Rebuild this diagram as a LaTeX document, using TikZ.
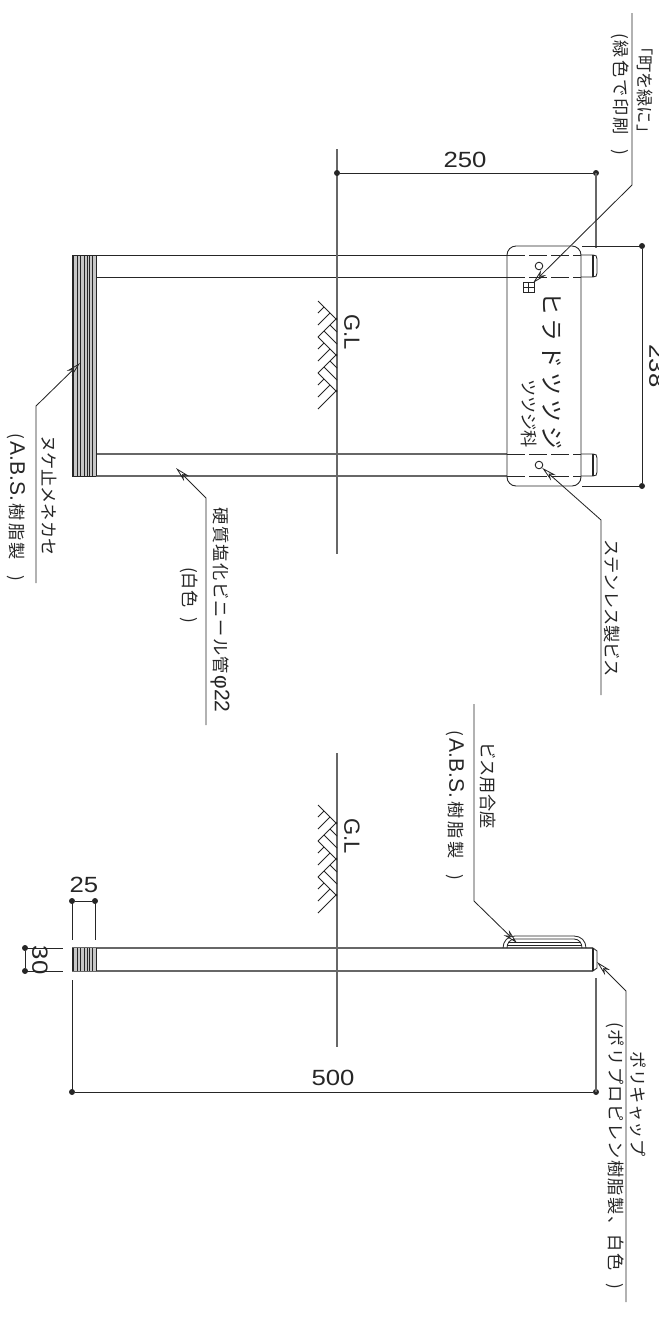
\documentclass[tikz,border=0pt]{standalone}
\usepackage{fontspec}
\usetikzlibrary{arrows.meta}
\setmainfont{Noto Sans CJK JP}
\newfontfamily\lat{Liberation Sans}
\definecolor{ink}{gray}{0.15}
\tikzset{
  x=0.5pt,y=-0.5pt,
  ln/.style={draw=ink,line width=0.42pt},
  gr/.style={draw=ink!70,line width=0.55pt},
  leader/.style={ln,-{Stealth[open,length=7.5pt,width=3.6pt]}},
  txt/.style={rotate=-90,inner sep=0pt,text=ink,font=\fontsize{8.6pt}{9pt}\selectfont},
  dig/.style={inner sep=0pt,text=ink,font=\lat\fontsize{11pt}{12pt}\selectfont},
  dimdot/.style={circle,fill=ink,inner sep=0pt,minimum size=3pt},
  hatchline/.style={ln,line width=0.4pt}
}
\makeatletter
\newcommand{\fit}[2]{\makebox[\dimexpr #1pt/2\relax][s]{\let\fit@sep\relax\@tfor\fit@t:=#2\do{\fit@sep\fit@t\let\fit@sep\hfil}}}
\makeatother
\newcommand{\wdig}[1]{\scalebox{1.17}[1]{#1}}
\newcommand{\gp}{\hspace{5pt}}
\newcommand{\ABS}{\mbox{\lat\fontsize{10.5pt}{11pt}\selectfont A.B.S.}}
\newcommand{\phitw}{\mbox{\lat\fontsize{10.5pt}{11pt}\selectfont φ22}}
\newcommand{\gline}[1]{%
  \foreach \gy in {#1}{
    \draw[hatchline] (318,\gy) -- (337,\gy+19);
    \draw[hatchline] (318,\gy+12) -- (324,\gy+6);
    \draw[hatchline] (318,\gy+24) -- (330,\gy+12);
    \draw[hatchline] (318,\gy+36) -- (337,\gy+17);
  }
  \foreach \gy in {#1}{
    \ifnum\gy=\gend\else
    \draw[hatchline] (324,\gy+30) -- (337,\gy+43);
    \draw[hatchline] (330,\gy+24) -- (337,\gy+31);
    \fi
  }}
\begin{document}
\begin{tikzpicture}
\useasboundingbox (0,0) rectangle (659,1324);
\clip (0,0) rectangle (659,1324);

% ---------- top view: posts ----------
\draw[ln,line width=0.5pt] (72,255) -- (507,255);
\draw[ln,line width=0.5pt] (96,277) -- (507,277);
\draw[gr] (96,454) -- (507,454);
\draw[gr] (72,476) -- (507,476);
\foreach \ya/\yb in {255/277,454/476}{
  \draw[ln,dash pattern=on 9pt off 2pt] (507,\ya) -- (581,\ya);
  \draw[ln,dash pattern=on 9pt off 2pt] (507,\yb) -- (581,\yb);
  \draw[ln] (581,\ya) -- (593,\ya) .. controls (596,\ya) and (597,\ya+1) .. (597,\ya+4) -- (597,\yb-4) .. controls (597,\yb-1) and (596,\yb) .. (593,\yb) -- (581,\yb);
  \draw[ln,line width=0.6pt] (593,\ya) -- (593,\yb);
}
% end stopper
\fill[black!22] (72,255) rectangle (96,476);
\foreach \bx in {72,73.5,77,80,84,87,89,92,96}{
  \draw[ln,line width=0.35pt] (\bx,255) -- (\bx,476);
}
\draw[ln] (72,255) -- (96,255) (72,476) -- (96,476);

% plate
\node[name=plate,draw=ink,line width=0.45pt,rounded corners=4.5pt,minimum width=37pt,minimum height=120pt,inner sep=0pt] at (544,366) {};
\node[name=holeA,draw=ink,circle,line width=0.45pt,minimum size=3.8pt,inner sep=0pt] at (539,266) {};
\node[name=holeB,draw=ink,circle,line width=0.45pt,minimum size=3.8pt,inner sep=0pt] at (539,465) {};
% printed mark
\draw[ln] (523,282) rectangle (534,292.5);
\draw[ln] (523,287) -- (534,287) (528.5,282) -- (528.5,292.5);
% plate text
\node[name=tA,txt,font=\fontsize{11.5pt}{12pt}\selectfont] at (552,370.5) {\fit{157}{ヒラドツツジ}};
\node[name=tB,txt] at (529,413) {\fit{68}{ツツジ科}};

% ground
\draw[gr] (337,149) -- (337,554);
\def\gend{373}
\gline{301,337,373}
\node[name=glA,dig,rotate=-90] at (352,332) {G.L};

% dim 250
\node[name=dA,dimdot] at (337,173) {};
\node[name=dB,dimdot] at (596,173) {};
\draw[ln] (dA) -- (dB);
\draw[gr] (596,173) -- (596,248);
\node[name=n250,dig] at (465,160) {\wdig{250}};

% dim 238
\node[name=dC,dimdot] at (642,246) {};
\node[name=dD,dimdot] at (642,486) {};
\draw[ln] (dC) -- (dD);
\draw[ln] (582,246) -- (642,246) (582,486) -- (642,486);
\node[name=n238,dig,rotate=-90] at (657,366) {\wdig{238}};

% leader: print
\coordinate (l1a) at (632,13);
\coordinate (l1b) at (632,185);
\coordinate (l1c) at (533,283);
\draw[leader] (l1a) -- (l1b) -- (l1c);
\node[name=t1,txt] at (645,83) {\fit{90}{「町を緑に」}};
\node[name=t2,txt] at (620,94) {\fit{122}{(緑色で印刷\gp)}};

% leader: screw
\coordinate (l2a) at (601,695);
\coordinate (l2b) at (601,520);
\draw[leader] (l2a) -- (l2b) -- (holeB);
\node[name=t3,txt] at (612,608) {\fit{137}{ステンレス製ビス}};

% leader: stopper
\coordinate (l3a) at (36,583);
\coordinate (l3b) at (36,406);
\coordinate (l3c) at (80,363);
\draw[leader] (l3a) -- (l3b) -- (l3c);
\node[name=t4,txt] at (49,495) {\fit{120}{ヌケ止メネカセ}};
\node[name=t5,txt] at (16,507) {\fit{148}{(\ABS 樹脂製\gp)}};

% leader: pipe
\coordinate (l4a) at (206,725);
\coordinate (l4b) at (206,498);
\coordinate (l4c) at (176,468);
\draw[leader] (l4a) -- (l4b) -- (l4c);
\node[name=t6,txt] at (220,610) {\fit{205}{硬質塩化ビニール管\phitw}};
\node[name=t7,txt] at (189,595) {\fit{56}{(白色\gp)}};

% ---------- side view ----------
\draw[gr] (337,753) -- (337,1047);
\def\gend{877}
\gline{805,841,877}
\node[name=glB,dig,rotate=-90] at (352,836) {G.L};

\draw[gr] (72,948) -- (593,948);
\draw[gr] (72,971) -- (593,971);
\fill[black!22] (72,948) rectangle (96,971);
\foreach \bx in {72,73.5,77,80,84,87,89,92,96}{
  \draw[ln,line width=0.35pt] (\bx,948) -- (\bx,971);
}
\draw[ln,line width=0.6pt] (593,948) -- (593,971);
\draw[ln] (593,948) -- (597,951) -- (597,968) -- (593,971);

% seat
\draw[ln] (503,948) .. controls (503,941) and (508,936) .. (515,936) -- (574,936) .. controls (581,936) and (586,941) .. (586,948);
\draw[ln] (507,948) .. controls (507,943) and (510,939) .. (515,939) -- (574,939) .. controls (579,939) and (582,943) .. (582,948);
\draw[ln] (508,942) -- (581,942) (507,945) -- (582,945);

% dim 25
\node[name=dE,dimdot] at (72,901) {};
\node[name=dF,dimdot] at (95,901) {};
\draw[ln] (dE) -- (dF);
\draw[ln] (72,901) -- (72,940) (95,901) -- (95,940);
\node[name=n25,dig] at (84,885) {\wdig{25}};

% dim 30
\node[name=dG,dimdot] at (25,948) {};
\node[name=dH,dimdot] at (25,971) {};
\draw[ln] (dG) -- (dH);
\draw[ln] (25,948) -- (63,948) (25,971) -- (63,971);
\node[name=n30,dig,rotate=-90] at (40,960) {\wdig{30}};

% dim 500
\node[name=dI,dimdot] at (72,1092) {};
\node[name=dJ,dimdot] at (596,1092) {};
\draw[ln] (dI) -- (dJ);
\draw[ln] (72,980) -- (72,1092);
\draw[gr] (596,978) -- (596,1092);
\node[name=n500,dig] at (333,1078) {\wdig{500}};

% leader: seat
\coordinate (l5a) at (474,704);
\coordinate (l5b) at (474,901);
\coordinate (l5c) at (517,943);
\draw[leader] (l5a) -- (l5b) -- (l5c);
\node[name=t8,txt] at (488,785) {\fit{85}{ビス用合座}};
\node[name=t9,txt] at (455,805) {\fit{150}{(\ABS 樹脂製\gp)}};

% leader: cap
\coordinate (l6a) at (626,1302);
\coordinate (l6b) at (626,991);
\coordinate (l6c) at (597,962);
\draw[leader] (l6a) -- (l6b) -- (l6c);
\node[name=t10,txt] at (638,1104) {\fit{105}{ポリキャップ}};
\node[name=t11,txt] at (615,1156) {\fit{267}{(ポリプロピレン樹脂製、白色\gp)}};
\end{tikzpicture}
\end{document}
